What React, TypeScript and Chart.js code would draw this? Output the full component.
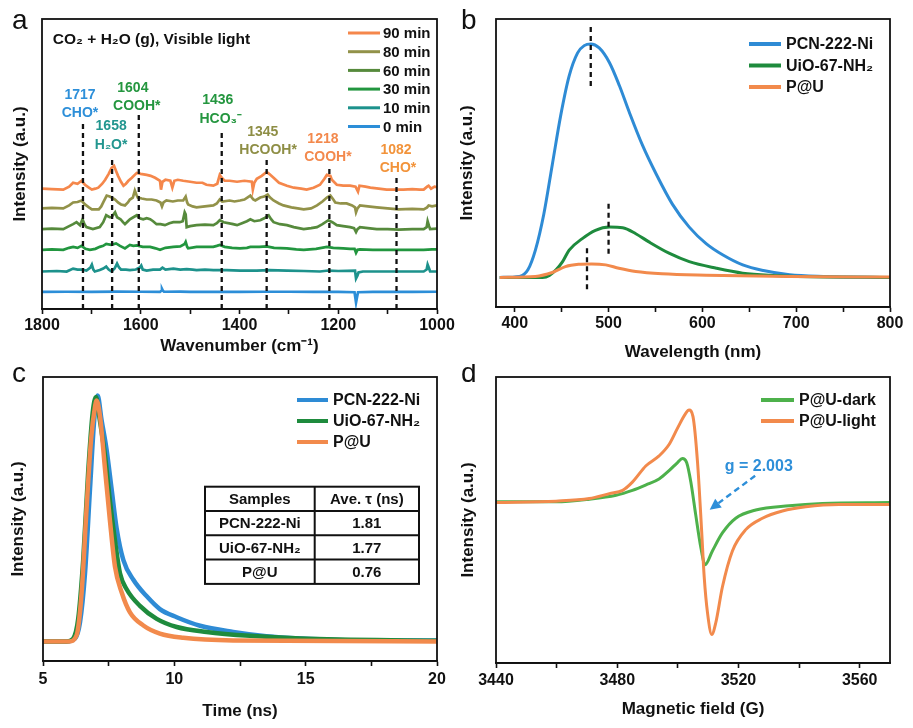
import React, { useEffect, useRef } from 'react';
import { Chart, registerables } from 'chart.js';

Chart.register(...registerables);

const FONT = '"Liberation Sans", Arial, Helvetica, sans-serif';
const f = (size: number, weight = 'bold') => `${weight} ${size}px ${FONT}`;

type P = [number, number][];

// ---------------- Panel a : in-situ DRIFTS ----------------
const aLabels = ['90 min', '80 min', '60 min', '30 min', '10 min', '0 min'];
const aMin90: P = [[1800,122],[1780,121.5],[1757,121],[1745,124],[1737,128],[1728,127],[1720,130],[1713,126],[1705,123],[1699,121],[1692,122],[1686,123],[1678,127],[1672,131],[1665,137],[1659,143],[1654,145],[1650,140],[1646,135],[1640,129],[1635,125],[1630,127],[1625,130],[1618,133],[1608,138],[1600,137],[1588,136],[1580,135],[1571,133],[1561,130],[1559,121],[1556,129],[1550,131],[1540,130],[1536,123],[1532,130],[1525,131],[1514,130],[1500,129],[1487,128],[1475,128],[1467,126],[1453,125],[1445,127],[1440,136],[1436,133],[1430,130],[1420,130],[1405,129],[1390,130],[1375,129],[1373,121],[1370,128],[1365,132],[1355,135],[1345,139],[1340,137],[1331,133],[1320,128],[1304,125],[1290,123],[1275,122],[1264,121],[1250,123],[1237,126],[1228,132],[1223,136],[1216,135],[1213,131],[1203,126],[1190,125],[1176,125],[1165,124],[1160,119],[1157,125],[1145,124],[1135,123],[1118,122],[1102,121],[1085,121],[1068,121],[1050,121.5],[1035,121],[1027,121],[1020,124],[1017,125],[1012,122],[1005,124],[1000,123.5]];
const aMin80: P = [[1800,102],[1780,102.5],[1757,102],[1745,105],[1737,108],[1728,108.5],[1720,110],[1713,106],[1705,103],[1699,101],[1685,101],[1680,104],[1676,108],[1669,115],[1663,114],[1659,113],[1652,111],[1646,108],[1640,106],[1632,105],[1626,108],[1622,111],[1616,113],[1612,120],[1609,116],[1606,113],[1598,112],[1588,111],[1578,111],[1568,110],[1560,108],[1557,104],[1554,108],[1548,110],[1535,109],[1525,110],[1514,110],[1509,114],[1506,108],[1504,106],[1495,104],[1487,103],[1470,104],[1453,105],[1446,107],[1440,111],[1435,109],[1420,110],[1410,109],[1399,110],[1390,111],[1378,115],[1372,111],[1368,110],[1358,113],[1350,114],[1343,116],[1338,113],[1331,110],[1320,107],[1311,105],[1295,103],[1282,102],[1270,101],[1255,102],[1243,105],[1232,109],[1223,113],[1216,115],[1210,111],[1206,108],[1195,107],[1183,107],[1172,105],[1166,103],[1164,98],[1161,102],[1156,105],[1140,104],[1122,103],[1100,102],[1078,101],[1050,101.5],[1027,101],[1020,103],[1017,105],[1010,104],[1000,105]];
const aMin60: P = [[1800,81],[1780,81.5],[1757,81],[1745,84],[1737,86],[1730,88],[1723,85],[1718,91],[1714,86],[1710,83],[1697,81],[1683,83],[1676,88],[1670,95],[1663,93],[1659,93],[1655,96],[1652,98],[1648,93],[1641,91],[1636,88],[1632,86],[1626,89],[1622,91],[1615,93],[1608,95],[1602,92],[1595,91],[1588,92],[1581,91],[1575,89],[1568,86],[1560,86],[1551,85],[1542,87],[1534,88],[1521,88],[1515,89],[1511,98],[1509,96],[1507,83],[1500,84],[1487,85],[1470,85.5],[1453,85],[1446,87],[1440,90],[1432,88],[1413,86],[1405,85],[1395,87],[1385,89],[1378,91],[1370,89],[1358,90],[1350,92],[1341,95],[1336,91],[1331,88],[1318,86],[1304,85],[1290,83],[1270,81],[1255,82],[1243,83],[1232,86],[1220,90],[1212,88],[1203,85],[1190,84],[1176,83],[1168,82],[1164,78],[1161,81],[1156,83],[1140,82],[1122,81],[1100,81],[1078,80.5],[1050,81],[1027,81],[1021,83],[1019,89],[1016,84],[1014,81],[1000,81.5]];
const aMin30: P = [[1800,60],[1780,60.5],[1757,60],[1745,62],[1737,63],[1728,62],[1720,64],[1712,61],[1703,60],[1692,61],[1683,63],[1676,64],[1670,66],[1660,65],[1650,66.5],[1642,64],[1632,61.5],[1622,65],[1615,64],[1608,64.5],[1596,63],[1581,63],[1570,61.5],[1561,60],[1550,62],[1534,63],[1520,63.5],[1511,66],[1509,68],[1506,63],[1504,61.5],[1487,63],[1470,63],[1453,63],[1446,64],[1440,65],[1430,63],[1415,62],[1399,61.5],[1385,62],[1378,63],[1360,63],[1345,63.5],[1330,62],[1304,61.5],[1285,60.5],[1270,60],[1245,61],[1223,63],[1210,62],[1190,61.5],[1176,61],[1167,61],[1164,57],[1161,60],[1156,60.5],[1130,60],[1102,60],[1070,60],[1027,60],[1010,60.5],[1000,60.5]];
const aMin10: P = [[1800,38],[1770,38.5],[1750,38],[1737,41],[1728,40],[1720,40],[1710,39],[1702,42],[1699,45],[1696,40],[1693,38],[1683,39.5],[1676,41],[1670,43],[1665,40],[1659,38],[1653,41],[1648,46],[1644,42],[1640,40],[1630,40],[1622,39.5],[1610,40],[1602,42],[1599,44],[1596,40],[1588,39],[1575,40],[1561,40],[1556,42],[1550,40],[1534,41],[1520,40],[1507,40.5],[1495,40],[1487,39.5],[1470,40],[1453,39.5],[1426,39.5],[1399,39],[1380,39],[1365,39],[1340,39.5],[1304,39],[1270,38.5],[1237,38],[1220,39],[1200,38.5],[1166,39],[1164,31],[1161,34],[1159,37],[1150,38],[1130,38],[1102,38],[1060,38],[1027,38],[1021,40],[1019,45],[1016,41],[1014,38],[1000,38]];
const aMin0: P = [[1800,17.3],[1750,17.5],[1700,17.3],[1650,17.6],[1600,17.5],[1561,17.4],[1558,18.5],[1557,20.5],[1555,18.5],[1553,17.5],[1520,17.6],[1500,17.3],[1450,17.4],[1400,17.3],[1350,17.5],[1300,17.5],[1250,17.4],[1200,17.3],[1167,17],[1165,10],[1164,6.5],[1162,12],[1160,17],[1130,17.3],[1100,17.3],[1050,17.4],[1000,17.5]];
const aPeaks = [1717, 1658, 1604, 1436, 1345, 1218, 1082];
const aPeakTops = [190, 151, 199, 181, 153, 146, 135];
const aSpecies = ['CHO*', 'H₂O*', 'COOH*', 'HCO₃⁻', 'HCOOH*', 'COOH*', 'CHO*'];

// ---------------- Panel b : PL spectra ----------------
const bLabels = ['PCN-222-Ni', 'UiO-67-NH₂', 'P@U'];
const bPCN: P = [[384,30],[405,31],[414,37.7],[422,57.7],[431,94.3],[440,144.3],[449,194.3],[458,234.3],[467,257.7],[474,265],[481,266.7],[490,262.7],[501,247.7],[511.6,224.3],[522,197.7],[536,164.3],[551,134.3],[568,104.3],[586,81],[604,64.3],[622,52.7],[643,42.7],[665,37],[693,32.7],[729,31],[800,30]];
const bUiO: P = [[384,30],[429.6,30],[437,32],[444,37.7],[451,46],[458,57.7],[472,69.3],[486,77.7],[501,81],[515,80.3],[529,74.3],[543,66],[565,54.3],[586,46],[615,39.3],[643,34.3],[675,32],[729,30.3],[800,30]];
const bPU: P = [[384,30],[422,31],[440,35],[454,41],[468,43.3],[482,43.7],[497,42.7],[511,39.3],[529,36],[557,33.7],[604,32.3],[693,31],[800,30.3]];
const bPeaks = [481, 500, 477];
const bPeakSpans: [number, number][] = [[224, 287], [54, 107], [18, 63]];

// ---------------- Panel c : TRPL decay ----------------
const cPCN: P = [[5,20],[5.9,20],[6.22,23],[6.41,39.7],[6.6,89.7],[6.79,176],[6.95,246],[7.08,271],[7.23,246],[7.42,216],[7.61,176],[7.8,136],[8.06,103],[8.44,83],[8.95,66],[9.45,53],[10.09,44.7],[10.98,36],[12.24,29.7],[13.5,25.3],[14.8,23],[17.3,21],[20,21]];
const cUiO: P = [[5,20],[5.9,20],[6.15,23],[6.34,43],[6.53,103],[6.72,193],[6.89,253],[7.02,269.7],[7.14,250],[7.36,209.7],[7.55,163],[7.74,123],[7.93,89.7],[8.19,73],[8.69,56.3],[9.33,43],[10.09,34.7],[11.23,29.7],[12.88,25.7],[14.8,23],[20,20.7]];
const cPU: P = [[5,20],[6.0,20],[6.28,26.3],[6.47,69.7],[6.66,156.3],[6.83,226.3],[6.98,259.7],[7.04,266],[7.17,250],[7.36,196.3],[7.55,143],[7.74,96.3],[8.0,69.7],[8.31,49.7],[8.82,36.3],[9.45,28],[10.34,23.7],[12.24,21],[20,20]];
const cSamples = ['PCN-222-Ni', 'UiO-67-NH₂', 'P@U'];
const cTau = ['1.81', '1.77', '0.76'];

// ---------------- Panel d : EPR ----------------
const dLabels = ['P@U-dark', 'P@U-light'];
const dDark: P = [[3440,164],[3459.8,164],[3470.8,166.7],[3479.6,170.7],[3485,175.7],[3489.5,181.3],[3493.8,187.3],[3497.1,195.7],[3499.9,204],[3501.5,208],[3502.9,204],[3504.3,184],[3505.9,150.7],[3507.6,117.3],[3509,100],[3511.4,114],[3514.7,132.3],[3519.1,147.3],[3525.7,155.7],[3536.7,160],[3547.7,162.3],[3570,163.3]];
const dLight: P = [[3440,163.3],[3459.8,164.7],[3470.8,167.3],[3477.4,172.3],[3481.8,175.7],[3485,184],[3489.5,200.7],[3493.8,210.7],[3497.1,222.3],[3499.9,239],[3502.6,254],[3503.7,257.3],[3505,250.7],[3506.5,204],[3507.8,137.3],[3508.7,87.3],[3509.8,50.7],[3511.2,29],[3512.5,40.7],[3514.7,77.3],[3518,114],[3522.4,135.7],[3527.9,147.3],[3534.5,154.7],[3542.2,159],[3553.2,161.3],[3570,161.3]];
const dGText = 'g = 2.003';

// ---------------- styles ----------------
const BLUE = '#2E8BD5';
const GREEN = '#1E8B3D';
const ORANGE = '#F28A4C';
const aColors = ['#F5874B', '#929249', '#568A3C', '#22963F', '#1D928C', '#2C8ED8'];
const aPeakColors = ['#2D8FD9', '#22968F', '#24963F', '#24963F', '#8E8E45', '#F3894D', '#F2933A'];
const aNumPos: [number, number][] = [[1723,217],[1660,185],[1616,224],[1444,212],[1353,179],[1231,172],[1083,161]];
const aSpPos: [number, number][] = [[1723,199],[1660,166],[1608,206],[1438,192],[1342,161],[1221,154],[1079,143]];

const toXY = (p: P) => p.map(([x, y]) => ({ x, y }));

function line(label: string, data: P, color: string, width: number, tension: number, order = 0) {
  return {
    label,
    data: toXY(data),
    borderColor: color,
    backgroundColor: color,
    borderWidth: width,
    pointRadius: 0,
    fill: false,
    tension,
    cubicInterpolationMode: tension > 0 ? 'monotone' : 'default',
    order,
  } as any;
}

function dashed(x: number, y0: number, y1: number) {
  return {
    label: '',
    data: [{ x, y: y0 }, { x, y: y1 }],
    borderColor: '#111',
    borderWidth: 2.3,
    borderDash: [5, 4],
    pointRadius: 0,
    fill: false,
    order: -1,
  } as any;
}

function xScale(o: { min: number; max: number; step: number; major: number; reverse?: boolean; title: string; tickPad: number; titlePad: number }) {
  return {
    type: 'linear',
    min: o.min,
    max: o.max,
    reverse: !!o.reverse,
    ticks: {
      stepSize: o.step,
      autoSkip: false,
      maxRotation: 0,
      minRotation: 0,
      includeBounds: false,
      padding: o.tickPad,
      color: '#111',
      font: { family: FONT, size: 16, weight: 'bold', lineHeight: 1 },
      callback: (v: number) => {
        const r = v / o.major;
        return Math.abs(r - Math.round(r)) < 1e-6 ? String(v) : '';
      },
    },
    grid: { display: true, drawOnChartArea: false, drawTicks: true, tickLength: 5, tickWidth: 1.6, tickColor: '#111' },
    border: { display: true, color: '#111', width: 1.8 },
    title: {
      display: true,
      text: o.title,
      color: '#111',
      font: { family: FONT, size: 17, weight: 'bold', lineHeight: 1 },
      padding: { top: o.titlePad, bottom: 0 },
    },
  } as any;
}

function yScale(max: number, padInner: number) {
  return {
    type: 'linear',
    min: 0,
    max,
    ticks: { display: false },
    grid: { display: false, drawTicks: false },
    border: { display: false },
    title: {
      display: true,
      text: 'Intensity (a.u.)',
      color: '#111',
      font: { family: FONT, size: 17, weight: 'bold', lineHeight: 1 },
      padding: { top: 0, bottom: padInner },
    },
  } as any;
}

type Txt = { x: number; y: number; text: string; color: string; font: string; align?: CanvasTextAlign };
type Deco = {
  letter: { text: string; x: number; y: number };
  texts?: Txt[];
  legend?: { order: number[]; dx: number; y0: number; dy: number; len: number; gap: number; lw: number; font: string };
  table?: { dx: number; dy: number; colW: number[]; rowH: number; rows: string[][]; font: string };
  arrow?: { x1: number; y1: number; x2: number; y2: number; color: string };
};

function makeDecor(d: Deco) {
  return {
    id: 'decor',
    afterDraw(chart: any) {
      const { ctx, chartArea: ca } = chart;
      const xs = chart.scales.x;
      const ys = chart.scales.y;
      ctx.save();
      if (d.arrow) {
        const a = d.arrow;
        const x1 = xs.getPixelForValue(a.x1), y1 = ys.getPixelForValue(a.y1);
        const x2 = xs.getPixelForValue(a.x2), y2 = ys.getPixelForValue(a.y2);
        const ang = Math.atan2(y2 - y1, x2 - x1);
        const hl = 11, hw = 5.5;
        const bx = x2 - hl * Math.cos(ang), by = y2 - hl * Math.sin(ang);
        ctx.strokeStyle = a.color;
        ctx.lineWidth = 2.4;
        ctx.setLineDash([6, 4]);
        ctx.beginPath();
        ctx.moveTo(x1, y1);
        ctx.lineTo(bx, by);
        ctx.stroke();
        ctx.setLineDash([]);
        ctx.fillStyle = a.color;
        ctx.beginPath();
        ctx.moveTo(x2, y2);
        ctx.lineTo(bx + hw * Math.sin(ang), by - hw * Math.cos(ang));
        ctx.lineTo(bx - hw * Math.sin(ang), by + hw * Math.cos(ang));
        ctx.closePath();
        ctx.fill();
      }
      ctx.setLineDash([]);
      ctx.strokeStyle = '#111';
      ctx.lineWidth = 1.8;
      ctx.strokeRect(ca.left, ca.top, ca.right - ca.left, ca.bottom - ca.top);
      ctx.textBaseline = 'middle';
      for (const t of d.texts || []) {
        ctx.font = t.font;
        ctx.fillStyle = t.color;
        ctx.textAlign = t.align || 'center';
        ctx.fillText(t.text, xs.getPixelForValue(t.x), ys.getPixelForValue(t.y));
      }
      if (d.legend) {
        const L = d.legend;
        L.order.forEach((idx, i) => {
          const ds = chart.data.datasets[idx];
          const y = ca.top + L.y0 + i * L.dy;
          const x0 = ca.right - L.dx;
          ctx.strokeStyle = ds.borderColor;
          ctx.lineWidth = L.lw;
          ctx.lineCap = 'butt';
          ctx.beginPath();
          ctx.moveTo(x0, y);
          ctx.lineTo(x0 + L.len, y);
          ctx.stroke();
          ctx.fillStyle = '#111';
          ctx.font = L.font;
          ctx.textAlign = 'left';
          ctx.textBaseline = 'middle';
          ctx.fillText(ds.label, x0 + L.len + L.gap, y + 1);
        });
      }
      if (d.table) {
        const T = d.table;
        const x0 = ca.left + T.dx, y0 = ca.top + T.dy;
        const W = T.colW.reduce((s, v) => s + v, 0);
        const H = T.rowH * T.rows.length;
        ctx.strokeStyle = '#111';
        ctx.lineWidth = 2;
        ctx.strokeRect(x0, y0, W, H);
        ctx.beginPath();
        for (let r = 1; r < T.rows.length; r++) {
          ctx.moveTo(x0, y0 + r * T.rowH);
          ctx.lineTo(x0 + W, y0 + r * T.rowH);
        }
        let cx = x0;
        for (let c = 0; c < T.colW.length - 1; c++) {
          cx += T.colW[c];
          ctx.moveTo(cx, y0);
          ctx.lineTo(cx, y0 + H);
        }
        ctx.stroke();
        ctx.fillStyle = '#111';
        ctx.font = T.font;
        ctx.textAlign = 'center';
        ctx.textBaseline = 'middle';
        T.rows.forEach((row, r) => {
          let left = x0;
          row.forEach((cell, c) => {
            ctx.fillText(cell, left + T.colW[c] / 2, y0 + r * T.rowH + T.rowH / 2 + 1);
            left += T.colW[c];
          });
        });
      }
      ctx.fillStyle = '#111';
      ctx.font = `28px ${FONT}`;
      ctx.textAlign = 'left';
      ctx.textBaseline = 'alphabetic';
      ctx.fillText(d.letter.text, d.letter.x, d.letter.y);
      ctx.restore();
    },
  };
}

function baseOptions(padding: any, x: any, y: any) {
  return {
    responsive: false,
    animation: false,
    devicePixelRatio: 1,
    layout: { padding },
    events: [],
    plugins: { legend: { display: false }, tooltip: { enabled: false }, title: { display: false } },
    scales: { x, y },
  } as any;
}

function configA() {
  const series = [aMin90, aMin80, aMin60, aMin30, aMin10, aMin0];
  const datasets = [
    ...series.map((s, i) => line(aLabels[i], s, aColors[i], 2.7, 0)),
    ...aPeaks.map((p, i) => dashed(p, 0, aPeakTops[i])),
  ];
  const texts: Txt[] = [
    { x: 1778, y: 273, text: 'CO₂ + H₂O (g), Visible light', color: '#111', font: f(15.5), align: 'left' },
  ];
  aPeaks.forEach((p, i) => {
    texts.push({ x: aNumPos[i][0], y: aNumPos[i][1], text: String(p), color: aPeakColors[i], font: f(14) });
    texts.push({ x: aSpPos[i][0], y: aSpPos[i][1], text: aSpecies[i], color: aPeakColors[i], font: f(14) });
  });
  return {
    type: 'line',
    data: { datasets },
    options: baseOptions(
      { left: 11.5, right: 33, top: 19, bottom: 9 },
      xScale({ min: 1000, max: 1800, step: 100, major: 200, reverse: true, title: 'Wavenumber (cm⁻¹)', tickPad: 4, titlePad: 0 }),
      yScale(294, 13.5),
    ),
    plugins: [
      makeDecor({
        letter: { text: 'a', x: 12, y: 29 },
        texts,
        legend: { order: [0, 1, 2, 3, 4, 5], dx: 89, y0: 14, dy: 18.7, len: 32, gap: 3, lw: 3, font: f(15) },
      }),
    ],
  } as any;
}

function configB() {
  const datasets = [
    line(bLabels[0], bPCN, BLUE, 3, 0.4, 3),
    line(bLabels[1], bUiO, GREEN, 3, 0.4, 2),
    line(bLabels[2], bPU, ORANGE, 3, 0.4, 1),
    ...bPeaks.map((p, i) => dashed(p, bPeakSpans[i][0], bPeakSpans[i][1])),
  ];
  return {
    type: 'line',
    data: { datasets },
    options: baseOptions(
      { left: 3.2, right: 23, top: 19, bottom: 3.5 },
      xScale({ min: 380, max: 800, step: 50, major: 100, title: 'Wavelength (nm)', tickPad: 4, titlePad: 7.5 }),
      yScale(292, 19.8),
    ),
    plugins: [
      makeDecor({
        letter: { text: 'b', x: 5, y: 29 },
        legend: { order: [0, 1, 2], dx: 141, y0: 25, dy: 21.5, len: 32, gap: 5, lw: 4, font: f(16) },
      }),
    ],
  } as any;
}

function configC() {
  const datasets = [
    line(bLabels[0], cPCN, BLUE, 4.5, 0.4, 3),
    line(bLabels[1], cUiO, GREEN, 4.5, 0.4, 2),
    line(bLabels[2], cPU, ORANGE, 4.5, 0.4, 1),
  ];
  return {
    type: 'line',
    data: { datasets },
    options: baseOptions(
      { left: 9.8, right: 33, top: 13, bottom: 8.5 },
      xScale({ min: 5, max: 20, step: 2.5, major: 5, title: 'Time (ns)', tickPad: 6, titlePad: 8.5 }),
      yScale(290, 16.2),
    ),
    plugins: [
      makeDecor({
        letter: { text: 'c', x: 12, y: 18 },
        legend: { order: [0, 1, 2], dx: 140, y0: 23, dy: 21, len: 31, gap: 5, lw: 4, font: f(16) },
        table: {
          dx: 162,
          dy: 109.7,
          colW: [109.7, 104.3],
          rowH: 24.3,
          rows: [['Samples', 'Ave. τ (ns)'], ...cSamples.map((s, i) => [s, cTau[i]])],
          font: f(15),
        },
      }),
    ],
  } as any;
}

function configD() {
  const datasets = [
    line(dLabels[0], dDark, '#4DB14B', 3, 0.3, 2),
    line(dLabels[1], dLight, ORANGE, 3, 0.3, 1),
  ];
  return {
    type: 'line',
    data: { datasets },
    options: baseOptions(
      { left: 4, right: 23, top: 13, bottom: 10.5 },
      xScale({ min: 3440, max: 3570, step: 20, major: 40, title: 'Magnetic field (G)', tickPad: 5, titlePad: 6.5 }),
      yScale(291, 19),
    ),
    plugins: [
      makeDecor({
        letter: { text: 'd', x: 5, y: 18 },
        texts: [{ x: 3526.7, y: 200, text: dGText, color: '#2E8FD9', font: f(16) }],
        legend: { order: [0, 1], dx: 129, y0: 23, dy: 21, len: 33, gap: 5, lw: 4, font: f(16) },
        arrow: { x1: 3525.5, y1: 190.5, x2: 3510.5, y2: 156, color: '#2E8FD9' },
      }),
    ],
  } as any;
}

function Panel({ make, left, top, width, height }: { make: () => any; left: number; top: number; width: number; height: number }) {
  const ref = useRef<HTMLCanvasElement>(null);
  useEffect(() => {
    const chart = new Chart(ref.current as HTMLCanvasElement, make());
    return () => chart.destroy();
  }, []);
  return (
    <canvas
      ref={ref}
      width={width}
      height={height}
      style={{ position: 'absolute', left, top, width, height }}
    />
  );
}

export default function App() {
  return (
    <div style={{ position: 'absolute', left: 0, top: 0, width: 913, height: 728, background: '#fff', overflow: 'hidden' }}>
      <Panel make={configA} left={0} top={0} width={470} height={364} />
      <Panel make={configB} left={456} top={0} width={457} height={364} />
      <Panel make={configC} left={0} top={364} width={470} height={364} />
      <Panel make={configD} left={456} top={364} width={457} height={364} />
    </div>
  );
}
